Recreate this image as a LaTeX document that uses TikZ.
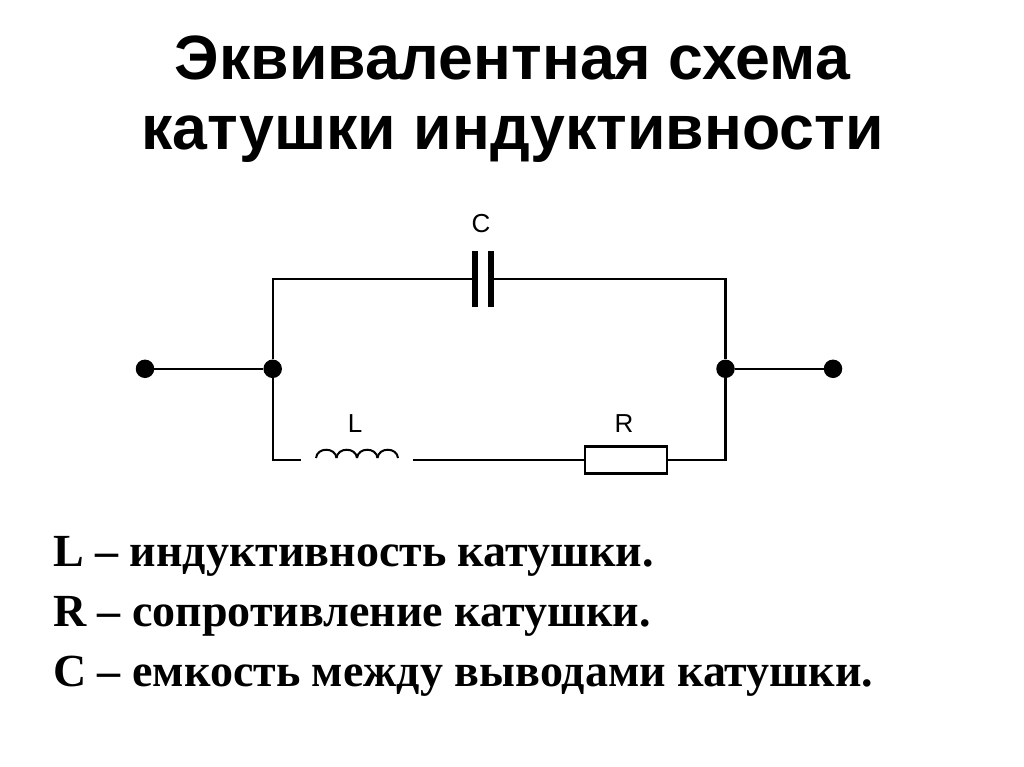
\documentclass[tikz,border=0pt]{standalone}
\usepackage{fontspec}
\setmainfont{Liberation Serif}
\setsansfont{Liberation Sans}
\usetikzlibrary{calc,positioning}

\tikzset{
  wire/.style={draw=black,line width=2.4pt},
  dot/.style={circle,fill=black,inner sep=0pt,minimum size=18.5pt},
  plate/.style={rectangle,fill=black,inner sep=0pt,minimum width=5.5pt,minimum height=56pt},
  res/.style={rectangle,draw=black,line width=2.4pt,inner sep=0pt,minimum width=82pt,minimum height=27pt},
  symb/.style={font=\sffamily\fontsize{26}{26}\selectfont,inner sep=0pt,anchor=base},
  title/.style={font=\sffamily\bfseries\fontsize{62.6}{63}\selectfont,inner sep=0pt,anchor=base},
  legend/.style={font=\bfseries\fontsize{46}{46}\selectfont,inner sep=0pt,anchor=base west}
}

\begin{document}
\begin{tikzpicture}[x=1pt,y=-1pt]
  \useasboundingbox[fill=white] (0,0) rectangle (1024,767);

  \node[title] (t1) at (512.5,79.5) {Эквивалентная схема};
  \node[title] (t2) at (512.5,149.5) {катушки индуктивности};

  \node[dot] (inl) at (145,368.8) {};
  \node[dot] (jl) at (272.7,368.8) {};
  \node[dot] (jr) at (725.5,368.8) {};
  \node[dot] (inr) at (833,368.8) {};

  \node[plate] (cl) at (475,279) {};
  \node[plate] (cr) at (491,279) {};
  \node[res] (r) at (626,460) {};
  \coordinate (gl) at (301,460);
  \coordinate (il) at (316,458);
  \coordinate (ir) at (413,460);

  \node[symb] (lc) at (481,233) {C};
  \node[symb] (ll) at (355,432) {L};
  \node[symb] (lr) at (624,432) {R};

  \draw[wire] (inl) -- (jl);
  \draw[wire] (jr) -- (inr);
  \draw[wire] (jl) |- (cl);
  \draw[wire] (cr) -| (jr);
  \draw[wire] (jl) |- (gl);
  \draw[wire] (ir) -- (r);
  \draw[wire] (r) -| (jr);

  % coil
  \foreach \i in {0,1,2,3}
    \draw[line width=2pt] ($(il)+(\i*20.5,0)$) .. controls +(1,-11) and +(-1,-11) .. +(20.5,0);

  \node[legend] (a) at (53,566) {L – индуктивность катушки.};
  \node[legend] (b) at (53,626) {R – сопротивление катушки.};
  \node[legend] (c) at (53,686) {С – емкость между выводами катушки.};
\end{tikzpicture}
\end{document}
